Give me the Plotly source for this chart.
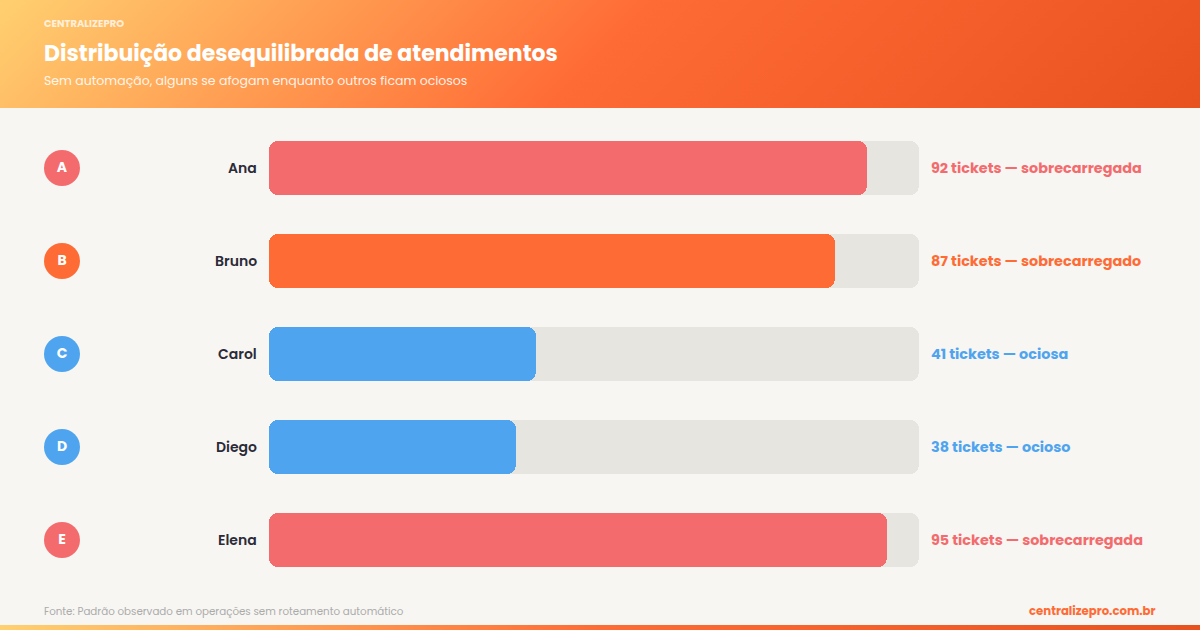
import base64
import plotly.graph_objects as go

# ---- data ----
names = ["Ana", "Bruno", "Carol", "Diego", "Elena"]
initials = ["A", "B", "C", "D", "E"]
tickets = [92, 87, 41, 38, 95]
status = ["sobrecarregada", "sobrecarregado", "ociosa", "ocioso", "sobrecarregada"]
colors = ["#F46B6E", "#FF6B35", "#4FA4EF", "#4FA4EF", "#F46B6E"]
track_max = 100

title = "Distribuição desequilibrada de atendimentos"
subtitle = "Sem automação, alguns se afogam enquanto outros ficam ociosos"
brand = "CENTRALIZEPRO"
source = "Fonte: Padrão observado em operações sem roteamento automático"
site = "centralizepro.com.br"

# ---- geometry ----
W, H = 1200, 630
x0_px, x1_px = 269, 919
ppu = (x1_px - x0_px) / track_max
xr = [-x0_px / ppu, (W - x0_px) / ppu]
row0, step = 168, 93
yr = [(H - row0) / step, -row0 / step]
bar_w = 54 / step

FONT = "Poppins, Inter, sans-serif"
BG = "#F7F6F2"
TRACK = "#E7E5E0"


def svg_uri(svg):
    return "data:image/svg+xml;base64," + base64.b64encode(svg.encode()).decode()


header_svg = (
    '<svg xmlns="http://www.w3.org/2000/svg" width="1200" height="108" viewBox="0 0 1200 108">'
    '<defs><linearGradient id="g" gradientUnits="userSpaceOnUse" x1="273" y1="-273" x2="927" y2="381">'
    '<stop offset="0" stop-color="#FFD070"/><stop offset="0.5" stop-color="#FF6B35"/>'
    '<stop offset="1" stop-color="#E8521F"/></linearGradient></defs>'
    '<rect width="1200" height="108" fill="url(#g)"/></svg>'
)
footer_svg = (
    '<svg xmlns="http://www.w3.org/2000/svg" width="1200" height="5" viewBox="0 0 1200 5" preserveAspectRatio="none">'
    '<defs><linearGradient id="f" x1="0" y1="0" x2="1" y2="0">'
    '<stop offset="0" stop-color="#FFD070"/><stop offset="0.5" stop-color="#FF6B35"/>'
    '<stop offset="1" stop-color="#E8521F"/></linearGradient></defs>'
    '<rect width="1200" height="5" fill="url(#f)"/></svg>'
)

fig = go.Figure()
zeros = [0] * len(names)

# tracks (explicit base -> all corners rounded)
fig.add_trace(go.Bar(y=names, x=[track_max] * len(names), base=zeros, orientation="h",
                     width=bar_w, marker=dict(color=TRACK, cornerradius=9, line_width=0),
                     hoverinfo="skip", showlegend=False))
# value bars
fig.add_trace(go.Bar(y=names, x=tickets, base=zeros, orientation="h",
                     width=bar_w, marker=dict(color=colors, cornerradius=9, line_width=0),
                     hoverinfo="skip", showlegend=False))

# initials circles
circle_x = (62 - x0_px) / ppu
fig.add_trace(go.Scatter(x=[circle_x] * len(names), y=names, mode="markers+text",
                         marker=dict(size=36, color=colors, line_width=0),
                         text=initials, textposition="middle center",
                         textfont=dict(family=FONT, size=14, color="white", weight="bold"),
                         hoverinfo="skip", showlegend=False))

ann = []
for n, v, s, c in zip(names, tickets, status, colors):
    ann.append(dict(x=(259 - x0_px) / ppu, y=n, xref="x", yref="y", text=n,
                    xanchor="right", yanchor="middle", showarrow=False,
                    font=dict(family=FONT, size=14, color="#2B2B38", weight=600)))
    ann.append(dict(x=(929 - x0_px) / ppu, y=n, xref="x", yref="y",
                    text=f"<b>{v} tickets — {s}</b>",
                    xanchor="left", yanchor="middle", showarrow=False,
                    font=dict(family=FONT, size=14.4, color=c)))

def py(px):
    return 1 - px / H

ann += [
    dict(x=42 / W, y=py(24), xref="paper", yref="paper", text=f"<b>{brand}</b>",
         xanchor="left", yanchor="middle", showarrow=False,
         font=dict(family=FONT, size=10, color="rgba(255,255,255,0.75)")),
    dict(x=42 / W, y=py(53), xref="paper", yref="paper", text=f"<b>{title}</b>",
         xanchor="left", yanchor="middle", showarrow=False,
         font=dict(family=FONT, size=22, color="white")),
    dict(x=42 / W, y=py(81), xref="paper", yref="paper", text=subtitle,
         xanchor="left", yanchor="middle", showarrow=False,
         font=dict(family=FONT, size=12.5, color="rgba(255,255,255,0.9)")),
    dict(x=42 / W, y=py(611), xref="paper", yref="paper", text=source,
         xanchor="left", yanchor="middle", showarrow=False,
         font=dict(family=FONT, size=10.3, color="#ABABAB")),
    dict(x=1158 / W, y=py(611), xref="paper", yref="paper", text=f"<b>{site}</b>",
         xanchor="right", yanchor="middle", showarrow=False,
         font=dict(family=FONT, size=11.7, color="#FF6B35")),
]

fig.update_layout(
    width=W, height=H, margin=dict(l=0, r=0, t=0, b=0),
    paper_bgcolor=BG, plot_bgcolor="rgba(0,0,0,0)",
    barmode="overlay", bargap=0,
    xaxis=dict(range=xr, visible=False, fixedrange=True),
    yaxis=dict(range=yr, visible=False, fixedrange=True, type="category",
               categoryorder="array", categoryarray=names),
    annotations=ann,
    images=[
        dict(source=svg_uri(header_svg), xref="paper", yref="paper", x=0, y=1,
             sizex=1, sizey=108 / H, sizing="stretch", xanchor="left", yanchor="top",
             layer="below"),
        dict(source=svg_uri(footer_svg), xref="paper", yref="paper", x=0, y=5 / H,
             sizex=1, sizey=5 / H, sizing="stretch", xanchor="left", yanchor="top",
             layer="below"),
    ],
    showlegend=False,
)

fig.write_html("out.html", config={"displayModeBar": False})
